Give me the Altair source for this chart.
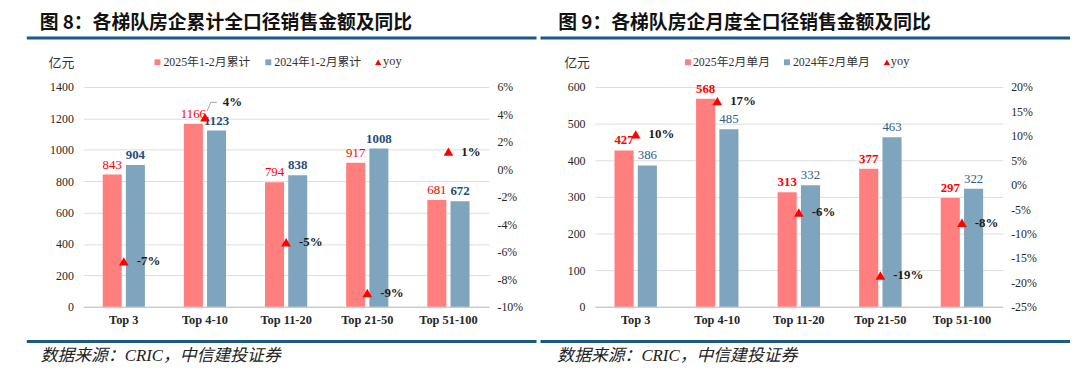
import altair as alt
import pandas as pd

# ---------------- data ----------------
categories = ["Top 3", "Top 4-10", "Top 11-20", "Top 21-50", "Top 51-100"]

left_title = "图 8：各梯队房企累计全口径销售金额及同比"
left_series = ["2025年1-2月累计", "2024年1-2月累计"]
left_2025 = [843, 1166, 794, 917, 681]
left_2024 = [904, 1123, 838, 1008, 672]
left_yoy = [-6.7, 3.8, -5.3, -9.0, 1.3]
left_yoy_labels = ["-7%", "4%", "-5%", "-9%", "1%"]
left_y_ticks = [0, 200, 400, 600, 800, 1000, 1200, 1400]
left_yoy_ticks = [-10, -8, -6, -4, -2, 0, 2, 4, 6]

right_title = "图 9：各梯队房企月度全口径销售金额及同比"
right_series = ["2025年2月单月", "2024年2月单月"]
right_2025 = [427, 568, 313, 377, 297]
right_2024 = [386, 485, 332, 463, 322]
right_yoy = [10.3, 17.1, -5.7, -18.6, -7.8]
right_yoy_labels = ["10%", "17%", "-6%", "-19%", "-8%"]
right_y_ticks = [0, 100, 200, 300, 400, 500, 600]
right_yoy_ticks = [-25, -20, -15, -10, -5, 0, 5, 10, 15, 20]

unit_label = "亿元"
yoy_name = "yoy"
source_text = "数据来源：CRIC，中信建投证券"

# ---------------- style ----------------
SERIF = "Liberation Serif, Noto Sans CJK SC"
CJK = "Noto Sans CJK SC"
RED_BAR = "#FF7F7F"
BLUE_BAR = "#7FA4BD"
RED_TXT = "#FF0000"
NAVY = "#1F4E79"
BLUE_TXT = "#2F5B8A"
RULE = "#1B5A87"
AXIS_TXT = "#262626"
PLOT_H = 222
LEADER_PATH = "M0.2,-0.6L0.6,-1.5L1.2,-1.5"


def one(value, name="t"):
    return pd.DataFrame({name: [value]})


def txt(s, x, y, **kw):
    return alt.Chart(one(s)).mark_text(**kw).encode(
        x=alt.value(x), y=alt.value(y), text="t:N")


def hrule(x1, x2, y, color, sw):
    return alt.Chart(one(0)).mark_rule(color=color, strokeWidth=sw).encode(
        x=alt.value(x1), x2=alt.value(x2), y=alt.value(y))


def sym(shape, size, color, x, y):
    return alt.Chart(one(0)).mark_point(shape=shape, size=size, filled=True,
                                        color=color, opacity=1).encode(
        x=alt.value(x), y=alt.value(y))


def panel(title, series, v25, v24, yoy, yoy_labels, yticks, yoyticks, width,
          title_x, rule_x1, rule_x2, unit_x, legend_pos, source_x,
          red_bold, blue_bold, raised):
    df = pd.DataFrame({
        "cat": categories * 2,
        "series": [series[0]] * len(categories) + [series[1]] * len(categories),
        "value": v25 + v24,
    })
    dy = pd.DataFrame({"cat": categories, "yoy": yoy, "lab": yoy_labels})

    x_enc = alt.X("cat:N", sort=categories,
                  scale=alt.Scale(paddingInner=0.48, paddingOuter=0.24),
                  axis=alt.Axis(title=None, labelAngle=0, ticks=False,
                                domainColor="#BFBFBF", labelFont=SERIF,
                                labelFontSize=12.5, labelFontWeight="bold",
                                labelColor=AXIS_TXT, labelPadding=7, grid=False))
    xo_enc = alt.XOffset("series:N", sort=series,
                         scale=alt.Scale(domain=series, paddingInner=0.18))
    y_enc = alt.Y("value:Q",
                  scale=alt.Scale(domain=[yticks[0], yticks[-1]], nice=False),
                  axis=alt.Axis(title=None, values=yticks, format="d",
                                domain=False, ticks=False, gridColor="#DDDDDD",
                                labelFont=SERIF, labelFontSize=12,
                                labelColor=AXIS_TXT, labelPadding=10))
    yy_enc = alt.Y("yoy:Q",
                   scale=alt.Scale(domain=[yoyticks[0], yoyticks[-1]],
                                   nice=False, zero=False),
                   axis=alt.Axis(title=None, orient="right", values=yoyticks,
                                 labelExpr="datum.value + '%'", grid=False,
                                 domain=False, ticks=False, labelFont=SERIF,
                                 labelFontSize=12, labelColor=AXIS_TXT,
                                 labelPadding=8))

    bars = alt.Chart(df).mark_bar().encode(
        x=x_enc, xOffset=xo_enc, y=y_enc,
        color=alt.Color("series:N", sort=series,
                        scale=alt.Scale(domain=series, range=[RED_BAR, BLUE_BAR]),
                        legend=None))
    lab_red = alt.Chart(df).transform_filter(
        alt.datum.series == series[0]).mark_text(
        baseline="bottom", dy=-3, font=SERIF, fontSize=13, color=RED_TXT,
        fontWeight="bold" if red_bold else "normal").encode(
        x=x_enc, xOffset=xo_enc, y=y_enc, text="value:Q")
    lab_blue = alt.Chart(df).transform_filter(
        alt.datum.series == series[1]).mark_text(
        baseline="bottom", dy=-3, font=SERIF, fontSize=13,
        color=NAVY if blue_bold else BLUE_TXT,
        fontWeight="bold" if blue_bold else "normal").encode(
        x=x_enc, xOffset=xo_enc, y=y_enc, text="value:Q")
    bar_layer = alt.layer(bars, lab_red, lab_blue)

    tri = alt.Chart(dy).mark_point(shape="triangle-up", filled=True, size=95,
                                   color=RED_TXT, opacity=1).encode(
        x=x_enc, y=yy_enc)
    is_raised = alt.FieldOneOfPredicate(field="cat", oneOf=raised if raised else ["__none__"])
    yoy_lab = alt.Chart(dy).transform_filter(~is_raised).mark_text(
        align="left", baseline="middle", dx=13, font=SERIF, fontSize=13,
        fontWeight="bold", color="#1A1A1A").encode(x=x_enc, y=yy_enc, text="lab:N")
    yoy_layers = [tri, yoy_lab]
    if raised:
        yoy_up = alt.Chart(dy).transform_filter(is_raised).mark_text(
            align="left", baseline="middle", dx=18, dy=-15, font=SERIF,
            fontSize=13, fontWeight="bold", color="#1A1A1A").encode(
            x=x_enc, y=yy_enc, text="lab:N")
        leader = alt.Chart(dy).transform_filter(is_raised).mark_point(
            shape=LEADER_PATH, size=400, filled=False, color="#8C8C8C",
            strokeWidth=0.8, opacity=1).encode(x=x_enc, y=yy_enc)
        yoy_layers += [yoy_up, leader]
    yoy_layer = alt.layer(*yoy_layers)

    (sq1, tx1, sq2, tx2, tr3, tx3) = legend_pos
    deco = [
        txt(title, title_x, -64.5, align="left", baseline="middle", font=CJK,
            fontSize=19, fontWeight="bold", color="#111111"),
        hrule(rule_x1, rule_x2, -49.5, RULE, 3),
        txt(unit_label, unit_x, -24, align="right", baseline="middle", font=SERIF,
            fontSize=13, color="#333333"),
        sym("square", 36, RED_BAR, sq1, -25),
        txt(series[0], tx1, -25, align="left", baseline="middle", font=SERIF,
            fontSize=12, color="#333333"),
        sym("square", 36, BLUE_BAR, sq2, -25),
        txt(series[1], tx2, -25, align="left", baseline="middle", font=SERIF,
            fontSize=12, color="#333333"),
        sym("triangle-up", 40, RED_TXT, tr3, -25),
        txt(yoy_name, tx3, -26, align="left", baseline="middle", font=SERIF,
            fontSize=12.5, color="#333333"),
        hrule(rule_x1, rule_x2, 257, RULE, 3),
        txt(source_text, source_x, 271.5, align="left", baseline="middle",
            font=SERIF, fontSize=17, fontStyle="italic", color="#222222"),
    ]

    return alt.layer(bar_layer, yoy_layer, *deco).resolve_scale(
        y="independent").properties(width=width, height=PLOT_H)


left = panel(left_title, left_series, left_2025, left_2024, left_yoy,
             left_yoy_labels, left_y_ticks, left_yoy_ticks, 410,
             title_x=-44, rule_x1=-57, rule_x2=458, unit_x=-9,
             legend_pos=(75, 81, 187, 193, 298, 303), source_x=-43,
             red_bold=False, blue_bold=True, raised=["Top 4-10"])
right = panel(right_title, right_series, right_2025, right_2024, right_yoy,
              right_yoy_labels, right_y_ticks, right_yoy_ticks, 412,
              title_x=-37, rule_x1=-55, rule_x2=480, unit_x=-5,
              legend_pos=(94, 99, 194, 200, 295, 299), source_x=-38,
              red_bold=True, blue_bold=False, raised=[])

chart = alt.hconcat(left, right, spacing=0).resolve_scale(
    x="independent", y="independent", xOffset="independent",
    color="independent").properties(
    padding={"left": 17, "top": 4, "right": 0, "bottom": 0}
).configure_view(stroke=None)

chart.save("out.html", embed_options={"renderer": "svg", "actions": False})
